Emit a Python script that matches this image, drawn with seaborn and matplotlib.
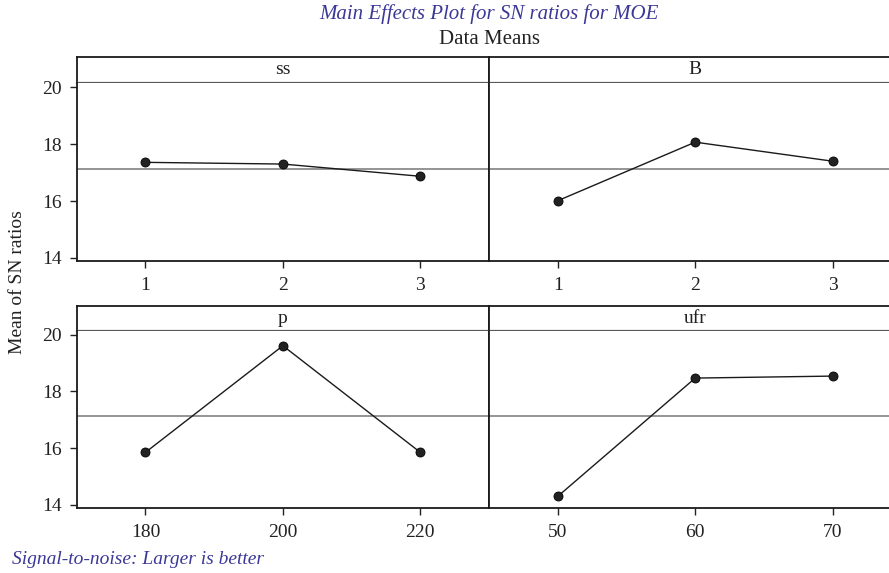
import numpy as np
import pandas as pd
import matplotlib
matplotlib.use("Agg")
import matplotlib.pyplot as plt
import seaborn as sns

sns.set_style("white")
plt.rcParams['font.family'] = ['Liberation Serif', 'DejaVu Serif']

# values
ss_levels = [1, 2, 3]
ss_sn = [17.36, 17.30, 16.87]
B_levels = [1, 2, 3]
B_sn = [16.01, 18.07, 17.40]
p_levels = [180, 200, 220]
p_sn = [15.85, 19.61, 15.85]
ufr_levels = [50, 60, 70]
ufr_sn = [14.30, 18.47, 18.54]
grand_mean = 17.12

yticks = [14, 16, 18, 20]
purple = '#3b3896'

panels = [
    ('ss', ss_levels, ss_sn, (0.5, 3.5)),
    ('B', B_levels, B_sn, (0.5, 3.5)),
    ('p', p_levels, p_sn, (170, 230)),
    ('ufr', ufr_levels, ufr_sn, (45, 75)),
]

W, H = 889, 573
fig = plt.figure(figsize=(W / 100, H / 100), dpi=100)

def rect(x0, y_top, w, h):
    # pixel box (top-left origin) -> figure fraction
    return [x0 / W, 1 - (y_top + h) / H, w / W, h / H]

lefts = [76.7, 489.0]
pw = 412.4
rows = [(56.7, 83.3, 261.3), (305.7, 330.7, 508.3)]  # strip top, strip line, bottom

for i, (name, lev, sn, xl) in enumerate(panels):
    r, c = divmod(i, 2)
    top, line, bot = rows[r]
    x0 = lefts[c]

    # strip header
    sax = fig.add_axes(rect(x0, top, pw, line - top))
    sax.set_xticks([]); sax.set_yticks([])
    for s in ['top', 'left', 'right']:
        sax.spines[s].set_color('#1a1a1a'); sax.spines[s].set_linewidth(1.3)
    sax.spines['bottom'].set_color('#5a5a5a'); sax.spines['bottom'].set_linewidth(1.6)
    sax.text(0.5, 0.5, name, ha='center', va='center', fontsize=14,
             transform=sax.transAxes, color='#222222')

    # data panel
    ax = fig.add_axes(rect(x0, line, pw, bot - line))
    df = pd.DataFrame({'level': lev, 'sn': sn})
    ax.axhline(grand_mean, color='#777777', lw=1.1, zorder=1)
    sns.lineplot(data=df, x='level', y='sn', ax=ax, color='#1a1a1a', lw=1.0,
                 marker='o', markersize=6.5, markerfacecolor='#222222',
                 markeredgecolor='#000000', markeredgewidth=0.6, zorder=3)
    ax.set_xlim(*xl)
    ax.set_ylim(13.88, 20.14)
    ax.set_xticks(lev)
    ax.set_xticklabels([str(v) for v in lev])
    ax.set_xlabel(''); ax.set_ylabel('')
    ax.spines['top'].set_visible(False)
    for s in ['left', 'right', 'bottom']:
        ax.spines[s].set_color('#1a1a1a'); ax.spines[s].set_linewidth(1.3)
    ax.tick_params(axis='x', direction='out', length=5, width=1.0, pad=6,
                   labelsize=14, colors='#222222', bottom=True)
    if c == 0:
        ax.set_yticks(yticks)
        ax.tick_params(axis='y', direction='out', length=5, width=1.0, pad=6,
                       labelsize=14, colors='#222222', left=True)
    else:
        ax.set_yticks([])

fig.text(489 / W, 1 - 14 / H, 'Main Effects Plot for SN ratios for MOE',
         ha='center', va='center', fontsize=15, style='italic', color=purple)
fig.text(489 / W, 1 - 40 / H, 'Data Means', ha='center', va='center',
         fontsize=15, color='#222222')
fig.text(18 / W, 1 - 282.5 / H, 'Mean of SN ratios', rotation=90,
         ha='center', va='center', fontsize=14, color='#222222')
fig.text(12 / W, 1 - 559 / H, 'Signal-to-noise: Larger is better',
         ha='left', va='center', fontsize=14, style='italic', color=purple)

fig.savefig('out.png', dpi=100)
